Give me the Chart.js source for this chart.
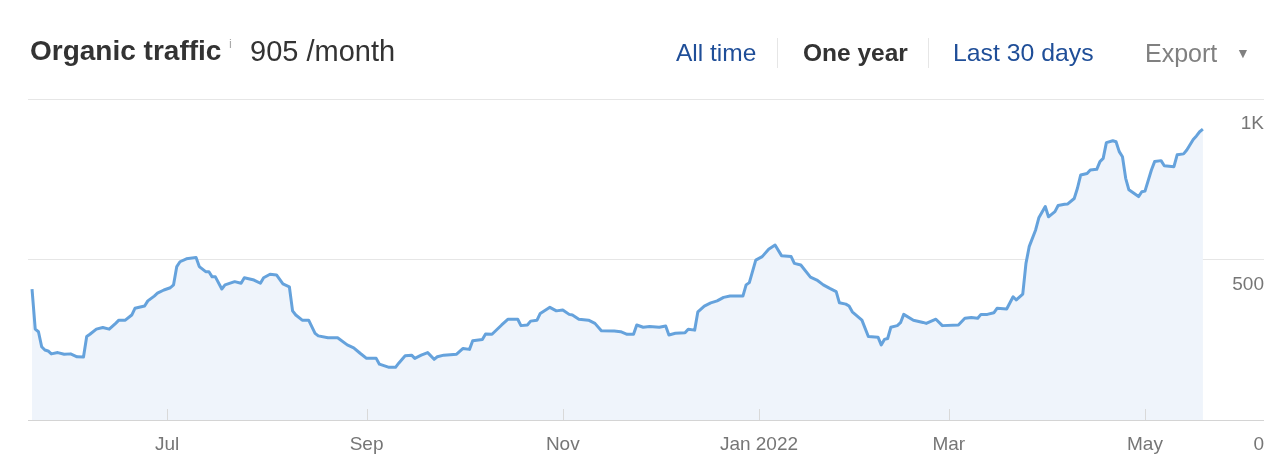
<!DOCTYPE html>
<html>
<head>
<meta charset="utf-8">
<script src="https://cdn.jsdelivr.net/npm/chart.js@4.4.1/dist/chart.umd.min.js"></script>
<style>
  html, body { margin: 0; padding: 0; background: #fff; }
  body { width: 1280px; height: 473px; position: relative; overflow: hidden;
         font-family: "Liberation Sans", Arial, Helvetica, sans-serif; }
  #wrap { position: absolute; left: 0; top: 0; width: 1280px; height: 473px; }
  .h { position: absolute; white-space: nowrap; line-height: 1; }
  .sep { position: absolute; width: 1px; background: #e6e6e6; }
</style>
</head>
<body>
<div id="wrap"><canvas id="c"></canvas></div>

<div class="h" style="left:30px;top:37px;font-size:28px;font-weight:bold;color:#333;">Organic traffic</div>
<div class="h" style="left:229px;top:37px;font-size:13px;color:#aaa;">i</div>
<div class="h" style="left:250px;top:37px;font-size:29px;color:#333;">905 /month</div>

<div class="h" style="left:676px;top:41px;font-size:24.5px;color:#1f4e98;">All time</div>
<div class="sep" style="left:777px;top:38px;height:30px;"></div>
<div class="h" style="left:803px;top:41px;font-size:24.5px;font-weight:bold;color:#333;">One year</div>
<div class="sep" style="left:928px;top:38px;height:30px;"></div>
<div class="h" style="left:953px;top:41px;font-size:24.8px;color:#1f4e98;">Last 30 days</div>
<div class="h" style="left:1145px;top:41px;font-size:25px;color:#808080;">Export</div>
<div class="h" style="left:1236px;top:46px;font-size:14px;color:#808080;">&#9660;</div>

<script>
// ---- data (days counted from START) ----
const START = '2021-05-20';
const days = [
  0,1,2,3,4,5,6,8,10,12,
  14,16,17,18,20,22,24,26,27,29,
  31,32,35,36,38,39,41,43,44,45,
  46,48,51,52,53,54,55,56,57,59,
  60,63,65,66,69,71,72,74,76,77,
  78,80,81,82,84,86,88,89,92,95,
  98,100,102,104,107,108,111,113,114,116,
  118,119,121,123,125,126,128,132,134,136,
  137,140,141,143,146,148,151,152,154,155,
  157,158,161,163,165,167,168,170,173,175,
  177,181,183,185,187,188,190,192,195,197,
  198,200,203,204,206,207,209,211,213,215,
  217,221,222,223,225,227,229,231,233,236,
  237,239,242,244,246,248,250,251,253,254,
  255,258,260,263,264,265,266,267,269,270,
  271,274,277,278,281,283,288,290,292,294,
  295,297,299,300,303,305,306,308,309,310,
  312,313,315,316,318,319,321,322,324,325,
  326,328,329,331,332,333,334,336,337,338,
  339,340,341,343,344,345,346,348,349,351,
  352,355,356,358,359,361,362,363,364
];
const traffic = [
  408,283,275,228,218,215,206,210,205,206,
  197,196,260,267,283,288,283,301,311,311,
  327,348,355,371,386,395,405,412,421,478,
  493,502,506,478,470,462,462,446,446,408,
  421,431,426,443,436,426,443,454,452,438,
  424,415,340,327,311,311,270,262,256,256,
  234,225,208,192,192,174,164,164,177,200,
  202,192,202,210,189,197,202,205,223,220,
  247,251,268,267,296,314,314,294,296,308,
  311,332,351,340,343,329,327,314,311,301,
  278,277,275,267,267,296,289,291,289,293,
  265,270,272,283,280,337,355,365,371,382,
  386,386,421,428,498,509,532,545,512,509,
  488,483,445,436,421,410,400,365,361,355,
  337,311,260,258,234,251,254,289,294,303,
  329,311,304,301,314,294,296,317,319,317,
  329,329,334,348,346,384,374,392,488,540,
  592,630,665,633,649,668,672,673,690,722,
  763,768,779,781,805,815,864,870,867,836,
  820,753,717,703,696,711,713,779,805,808,
  792,789,826,829,841,874,885,898,906
];
const tickDates = ['2021-07-01','2021-09-01','2021-11-01','2022-01-01','2022-03-01','2022-05-01'];
const tickLabels = ['Jul','Sep','Nov','Jan 2022','Mar','May'];
const yTickValues = [0, 500, 1000];
const yTickLabels = ['0', '500', '1K'];

// ---- helpers ----
function dayOffset(d) {
  const [y, m, dd] = d.split('-').map(Number);
  const [sy, sm, sd] = START.split('-').map(Number);
  return Math.round((Date.UTC(y, m - 1, dd) - Date.UTC(sy, sm - 1, sd)) / 86400000);
}
const tickDays = tickDates.map(dayOffset);
const points = days.map((d, i) => ({ x: d, y: traffic[i] }));

const tickMarks = {
  id: 'tickMarks',
  afterDatasetsDraw(chart) {
    const xs = chart.scales.x, ys = chart.scales.y, ctx = chart.ctx;
    const base = ys.getPixelForValue(0);
    ctx.save();
    ctx.strokeStyle = '#d9d9d9';
    ctx.lineWidth = 1;
    tickDays.forEach(d => {
      const px = Math.round(xs.getPixelForValue(d)) + 0.5;
      ctx.beginPath();
      ctx.moveTo(px, base - 11);
      ctx.lineTo(px, base);
      ctx.stroke();
    });
    ctx.restore();
  }
};

const FONT = '"Liberation Sans", Arial, Helvetica, sans-serif';

new Chart(document.getElementById('c'), {
  type: 'line',
  data: {
    datasets: [{
      data: points,
      borderColor: '#65a2dc',
      borderWidth: 3,
      backgroundColor: '#eff4fb',
      fill: 'origin',
      pointRadius: 0,
      tension: 0,
      borderJoinStyle: 'round'
    }]
  },
  options: {
    responsive: true,
    maintainAspectRatio: false,
    animation: false,
    layout: { padding: { left: 28, right: 16, top: 99, bottom: 0 } },
    plugins: { legend: { display: false }, tooltip: { enabled: false } },
    scales: {
      x: {
        type: 'linear',
        min: -1.25,
        max: 383,
        afterFit(s) { s.height = 53; },
        afterBuildTicks(s) { s.ticks = tickDays.map(v => ({ value: v })); },
        grid: { display: false },
        border: { display: false },
        ticks: {
          autoSkip: false, maxRotation: 0, padding: 5,
          color: '#767676', font: { family: FONT, size: 19 },
          callback(v) { const i = tickDays.indexOf(v); return i >= 0 ? tickLabels[i] : ''; }
        }
      },
      y: {
        position: 'right',
        min: 0,
        max: 1000,
        afterFit(s) { s.width = 0; },
        afterBuildTicks(s) { s.ticks = yTickValues.map(v => ({ value: v })); },
        border: { display: false },
        grid: {
          drawTicks: false,
          color(ctx) { return ctx.tick && ctx.tick.value === 0 ? '#d4d4d4' : '#e6e6e6'; },
          lineWidth: 1
        },
        ticks: {
          mirror: true, padding: 0, labelOffset: 25,
          color: '#767676', font: { family: FONT, size: 19 },
          callback(v) { const i = yTickValues.indexOf(v); return i >= 0 ? yTickLabels[i] : ''; }
        }
      }
    }
  },
  plugins: [tickMarks]
});
</script>
</body>
</html>
